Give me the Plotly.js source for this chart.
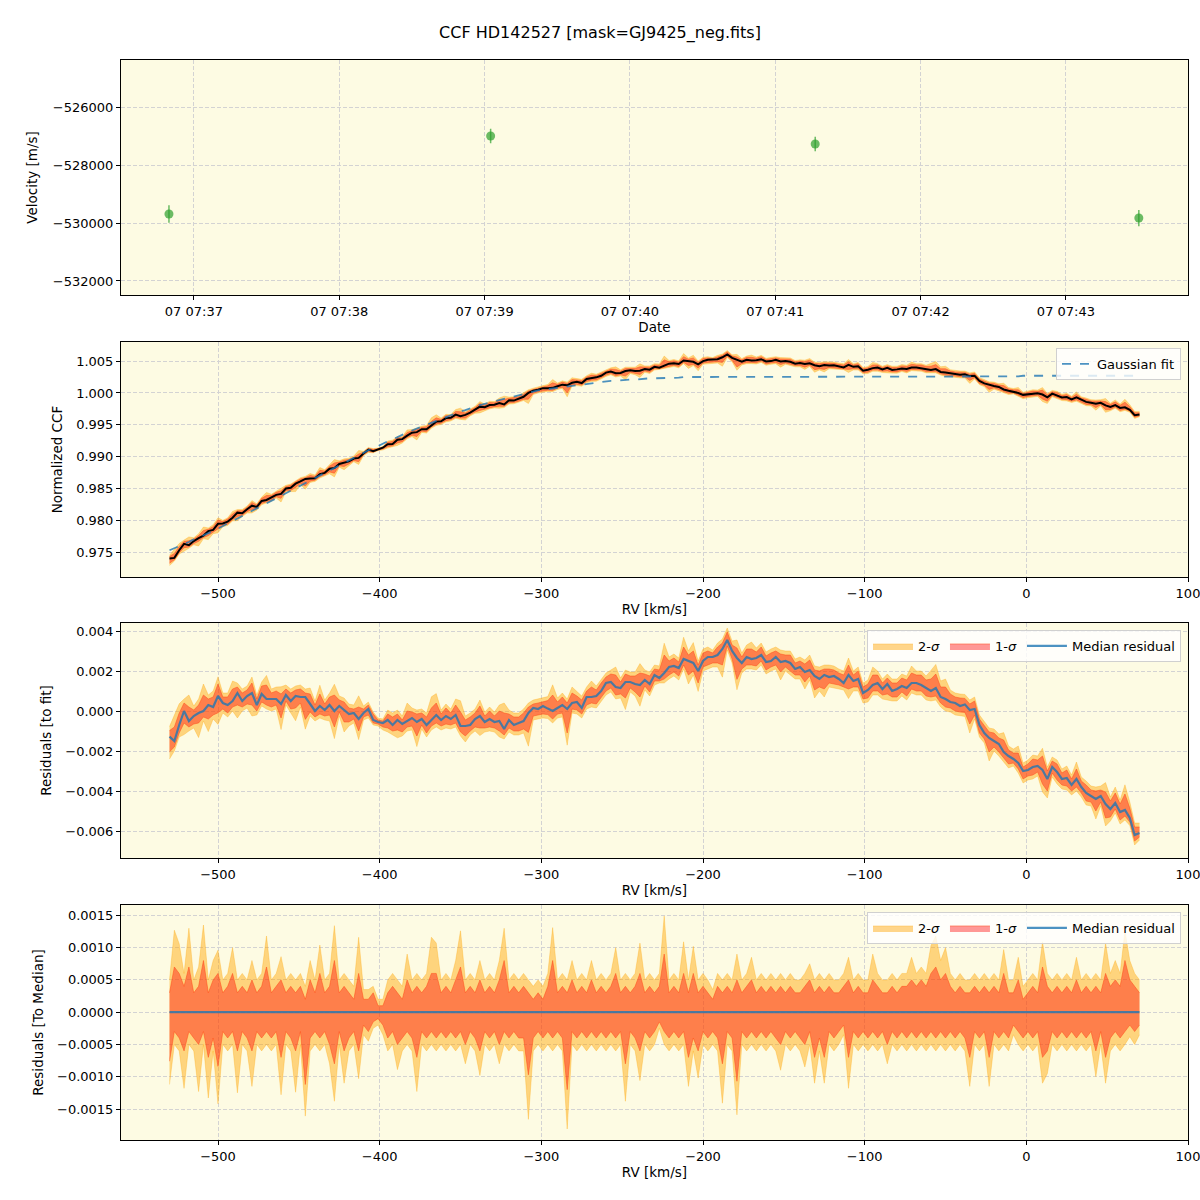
<!DOCTYPE html>
<html>
<head>
<meta charset="utf-8">
<script src="https://cdn.plot.ly/plotly-3.0.1.min.js"></script>
<style>body{margin:0;padding:0;background:#fff}#chart{width:1200px;height:1200px}</style>
</head>
<body>
<div id="chart"></div>
<script>
// ---------- Panel 1: RV time series ----------
const obsDates = ['2019-05-07 07:36:49.7', '2019-05-07 07:39:02.5', '2019-05-07 07:41:16.5', '2019-05-07 07:43:30.1'];
const obsVel = [-529690, -527000, -527276, -529828];
const obsErr = [300, 250, 250, 280];

// ---------- RV grid (km/s) ----------
const rvStart = -530, rvStep = 3, nPts = 201;
const rv = [];
for (let i = 0; i < nPts; i++) rv.push(rvStart + i * rvStep);

// ---------- Gaussian fit (normalized CCF) ----------
const gaussFit = [
0.9753,0.9756,0.9760,0.9763,0.9766,0.9770,0.9773,0.9776,0.9780,0.9783,
0.9787,0.9791,0.9795,0.9799,0.9803,0.9806,0.9810,0.9814,0.9818,0.9822,
0.9826,0.9830,0.9834,0.9838,0.9842,0.9846,0.9850,0.9854,0.9858,0.9862,
0.9866,0.9870,0.9874,0.9878,0.9882,0.9886,0.9890,0.9894,0.9898,0.9902,
0.9906,0.9910,0.9913,0.9917,0.9920,0.9924,0.9927,0.9931,0.9934,0.9938,
0.9941,0.9944,0.9947,0.9950,0.9954,0.9957,0.9960,0.9963,0.9965,0.9968,
0.9971,0.9973,0.9976,0.9978,0.9981,0.9983,0.9985,0.9987,0.9989,0.9991,
0.9993,0.9995,0.9997,0.9999,1.0001,1.0002,1.0004,1.0005,1.0006,1.0008,
1.0009,1.0010,1.0011,1.0012,1.0013,1.0014,1.0015,1.0016,1.0017,1.0017,
1.0018,1.0019,1.0019,1.0020,1.0020,1.0021,1.0021,1.0022,1.0022,1.0023,
1.0023,1.0023,1.0024,1.0024,1.0024,1.0024,1.0025,1.0025,1.0025,1.0025,
1.0025,1.0025,1.0025,1.0025,1.0025,1.0025,1.0025,1.0025,1.0025,1.0025,
1.0025,1.0025,1.0025,1.0025,1.0025,1.0025,1.0025,1.0025,1.0025,1.0025,
1.0025,1.0026,1.0026,1.0026,1.0026,1.0026,1.0026,1.0026,1.0026,1.0026,
1.0026,1.0026,1.0026,1.0026,1.0026,1.0026,1.0026,1.0026,1.0026,1.0026,
1.0026,1.0026,1.0026,1.0026,1.0026,1.0026,1.0026,1.0026,1.0026,1.0026,
1.0026,1.0026,1.0026,1.0026,1.0026,1.0026,1.0026,1.0026,1.0026,1.0026,
1.0026,1.0026,1.0026,1.0026,1.0026,1.0026,1.0027,1.0027,1.0027,1.0027,
1.0027,1.0027,1.0027,1.0027,1.0027,1.0027,1.0027,1.0027,1.0027,1.0027,
1.0027,1.0027,1.0027,1.0027,1.0027,1.0027,1.0027,1.0027,1.0027,1.0027,1.0027];

// ---------- Median residual to fit (units of 1e-4) ----------
const residMed = [
-12.8,-15,-7,0,-5,-2.5,-1,0,3,2,
7.5,4,3,5,9,5,7.5,9,3,8.5,
6,6,6,3.5,8,5,7.5,7,7,3.5,
0,2.5,0.5,3,0,2.5,0.5,-1.5,-1,-4,
-1,1,-4.5,-5.5,-6,-4.5,-7,-4.5,-6.5,-5,
-3.5,-5.5,-4,-7,-4.5,-2,-4.5,-2.5,-4,-2,
-7.5,-7.5,-7,-4,-2.5,-5.5,-4,-5.5,-5,-9,
-4.5,-7,-6,-5,-1,1.5,1,2.5,1.2,0,
1.5,3,1,4,4.5,1.5,7,7,7.5,10,
14,14.5,12,11.5,14.5,14.5,13.5,13,15.5,13.5,
18,16.5,19,22,22.5,21.5,26,25,24,20,
25,27,27,28,31,35.5,30,26.5,24,27,
26,26.5,28,24.5,25,27,24.5,25,24,21,
22,19.5,20.5,17.5,16,18,17,17.5,16,14,
18,15,16,9,10.5,13,14,11,13.5,10,
11,12.5,11.5,14,14,13,11.5,10,11.5,7,
6,4.5,4,2.5,3.3,0.5,1,-7,-11,-13.5,
-15,-16.5,-20.5,-22.5,-24,-26,-30,-29.5,-28,-27.5,
-29.5,-34,-28,-30.5,-34,-33.5,-37,-34,-38,-41,
-42.5,-44,-42.5,-46.5,-49,-46,-50.5,-49.5,-53.5,-62,-61];

// ---------- Spread around the median (units of 1e-4) ----------
const up1 = [
3,7,6,4,7,3,4,8,3,5,
6,3,4,6,3,4,3,5,3,4,
7,3,4,5,3,4,3,4,2,5,
3,6,3,4,8,3,4,3,2,6,
2,2,3,1,1,3,4,3,2,5,
3,4,3,4,6,6,3,4,3,5,
7,3,4,3,5,3,4,3,5,8,
3,4,3,4,3,2,3,2,4,8,
3,4,3,5,3,4,3,5,3,4,
3,4,6,3,4,3,4,6,3,4,
3,4,9,3,4,3,6,3,6,3,
4,3,2,4,3,4,3,5,3,4,
5,3,4,3,4,3,4,3,4,3,
3,4,5,3,4,3,4,3,3,4,
5,3,4,3,3,5,4,3,3,4,
3,4,4,5,4,5,4,6,7,5,
6,4,3,4,3,3,4,3,4,3,
4,3,6,3,3,5,2,3,4,3,
7,4,3,4,3,4,3,5,3,4,
3,4,3,6,4,5,4,8,5,4,3];
const up2 = [
5,12.7,10.6,6,13,5,7,13.5,5,8,
9.6,5,6,10,5,6,5,8,5,6,
11.8,5,6,8.6,5,6,5,6,4,8,
5,10.4,5,6,13.4,5,6,5,4,11.6,
3.5,3.5,4,2,2,5,6,5,4,9,
5,6,5,6,11.6,10.7,5,6,5,8,
12.6,5,6,5,8,5,6,5,8,13,
5,6,5,6,5,4,5,4,6,13.1,
5,6,5,8,5,6,5,8,5,6,
5,6,10,5,6,5,6,10.7,5,6,
5,6,14.9,5,6,5,10.9,5,10.2,5,
6,5,3.5,6,5,6,5,9,5,6,
8.5,5,6,5,6,5,6,5,6,5,
5,6,7.5,5,6,5,6,5,5,6,
8.5,5,6,5,5,9,6,5,5,6,
5,6,6,8.5,6,7,6,10.3,11.8,8,
10,6,5,6,5,5,6,5,6,5,
6,5,9.7,5,5,8.5,4,5,6,5,
10.9,6,5,6,5,6,5,8.5,5,6,
5,6,5,10.7,6,8,6,12.6,8,6,5];
const lo1 = [
-7.6,-3,-4,-6,-3,-4,-5,-3,-7,-4,
-8.4,-3,-4,-3,-6,-3,-4,-6,-3,-4,
-3,-4,-3,-7,-3,-4,-6,-3,-11.2,-4,
-3,-4,-3,-5,-8,-3,-6,-4,-3,-6,
-2,-3,-1.5,-1,-2,-4,-3,-5,-4,-3,
-4,-7,-3,-4,-3,-4,-3,-4,-3,-4,
-3,-5,-3,-4,-6,-3,-4,-3,-5,-3,
-4,-3,-4,-4,-9.7,-4,-3,-4,-3,-4,
-3,-4,-12,-3,-4,-3,-4,-3,-4,-3,
-4,-3,-4,-3,-8,-3,-4,-6,-3,-4,
-3,-1.5,-3,-4,-3,-4,-3,-7,-4,-6,
-3,-4,-3,-4,-8,-3,-4,-10.7,-3,-4,
-3,-4,-3,-4,-3,-4,-5,-3,-4,-3,
-4,-5,-3,-7,-4,-7,-3,-4,-3,-2,
-7,-3,-4,-3,-4,-3,-4,-3,-5,-3,
-4,-3,-4,-3,-4,-3,-4,-3,-4,-3,
-4,-3,-4,-3,-4,-7,-3,-4,-3,-7,
-3,-4,-3,-4,-2,-3,-4,-3,-4,-3,
-7,-6,-3,-4,-3,-4,-3,-4,-3,-4,
-3,-6,-3,-7,-4,-3,-4,-3,-2,-3,-2];
const lo2 = [
-11.2,-5,-6,-11.8,-5,-6,-12.3,-5,-13.3,-6,
-14.2,-5,-6,-5,-12.5,-5,-6,-11.5,-5,-6,
-5,-6,-5,-12.8,-5,-6,-12.4,-5,-16.1,-6,
-5,-6,-5,-8,-13.8,-5,-11,-6,-5,-10.3,
-3.5,-4.5,-2.5,-2,-3.5,-6,-5,-8.9,-6,-5,
-6,-12.3,-5,-6,-5,-6,-5,-6,-5,-6,
-5,-8,-5,-6,-9.8,-5,-6,-5,-8,-5,
-6,-5,-6,-6,-16.6,-6,-5,-6,-5,-6,
-5,-6,-18.1,-5,-6,-5,-6,-5,-6,-5,
-6,-5,-6,-5,-13.8,-5,-6,-10.6,-5,-6,
-5,-2.5,-5,-6,-5,-6,-5,-11.5,-6,-10.2,
-5,-6,-5,-6,-14.1,-5,-6,-15.9,-5,-6,
-5,-6,-5,-6,-5,-6,-9,-5,-6,-5,
-6,-8.5,-5,-11,-6,-11,-5,-6,-5,-3.5,
-11.8,-5,-6,-5,-6,-5,-6,-5,-8,-5,
-6,-5,-6,-5,-6,-5,-6,-5,-6,-5,
-6,-5,-6,-5,-6,-11.5,-5,-6,-5,-11.5,
-5,-6,-5,-6,-3.5,-5,-6,-5,-6,-5,
-11,-9.5,-5,-6,-5,-6,-5,-6,-5,-6,
-5,-10,-5,-11,-6,-5,-6,-5,-3.8,-5,-3.5];

const U = 1e-4;

// derived bands
const residV = residMed.map(v => v * U);
const ccfMed = gaussFit.map((f, i) => f + residV[i]);
const addOff = (base, off) => base.map((b, i) => b + off[i] * U);
const medZero = residMed.map(() => 0);

const bg = '#fdfbe3';
const c2fill = 'rgba(255,165,0,0.45)', c2line = 'rgba(255,165,0,0.5)';
const c1fill = 'rgba(255,0,0,0.4)', c1line = 'rgba(255,70,20,0.6)';
const blue = 'rgba(31,119,180,0.8)';

function bandTraces(base, xa, ya, leg, showLeg) {
  return [
    {x: rv, y: addOff(base, lo2), xaxis: xa, yaxis: ya, mode: 'lines', line: {color: c2line, width: 0.6}, showlegend: false, legend: leg, hoverinfo: 'skip'},
    {x: rv, y: addOff(base, up2), xaxis: xa, yaxis: ya, mode: 'lines', fill: 'tonexty', fillcolor: c2fill, line: {color: c2line, width: 0.6}, name: '2-<i>σ</i>', showlegend: showLeg, legend: leg},
    {x: rv, y: addOff(base, lo1), xaxis: xa, yaxis: ya, mode: 'lines', line: {color: c1line, width: 0.8}, showlegend: false, legend: leg, hoverinfo: 'skip'},
    {x: rv, y: addOff(base, up1), xaxis: xa, yaxis: ya, mode: 'lines', fill: 'tonexty', fillcolor: c1fill, line: {color: c1line, width: 0.8}, name: '1-<i>σ</i>', showlegend: showLeg, legend: leg}
  ];
}

const traces = [];
// Panel 1
traces.push({
  x: obsDates, y: obsVel, xaxis: 'x', yaxis: 'y', mode: 'markers', name: 'Good', legend: 'legend',
  marker: {color: 'rgba(44,160,44,0.7)', size: 9},
  error_y: {type: 'data', array: obsErr, visible: true, color: 'rgba(44,160,44,0.7)', thickness: 1.5, width: 0}
});
// Panel 2
bandTraces(ccfMed, 'x2', 'y2', 'legend2', false).forEach(t => traces.push(t));
traces.push({x: rv, y: ccfMed, xaxis: 'x2', yaxis: 'y2', mode: 'lines', line: {color: 'black', width: 2}, showlegend: false, legend: 'legend2'});
traces.push({x: rv, y: gaussFit, xaxis: 'x2', yaxis: 'y2', mode: 'lines', name: 'Gaussian fit', legend: 'legend2', line: {color: blue, width: 1.8, dash: 'dash'}});
// Panel 3
bandTraces(residV, 'x3', 'y3', 'legend3', true).forEach(t => traces.push(t));
traces.push({x: rv, y: residV, xaxis: 'x3', yaxis: 'y3', mode: 'lines', name: 'Median residual', legend: 'legend3', line: {color: blue, width: 2.2}});
// Panel 4
bandTraces(medZero, 'x4', 'y4', 'legend4', true).forEach(t => traces.push(t));
traces.push({x: rv, y: medZero, xaxis: 'x4', yaxis: 'y4', mode: 'lines', name: 'Median residual', legend: 'legend4', line: {color: blue, width: 2.2}});

const xDom = [121 / 1200, 1188 / 1200];
const dom = (top, bot) => [1 - bot / 1200, 1 - top / 1200];
const axBase = {
  showline: true, mirror: true, linecolor: 'black', linewidth: 1,
  ticks: 'outside', ticklen: 4, tickcolor: 'black', tickwidth: 1,
  showgrid: true, gridcolor: '#d3d3d3', griddash: '4px,2px', gridwidth: 1,
  zeroline: false, tickfont: {size: 13}, ticklabeloverflow: 'allow'
};
const tf = () => ({size: 13.5});
const legBase = {bgcolor: 'rgba(255,255,255,0.8)', bordercolor: '#d0d0d0', borderwidth: 1, font: {size: 13}, xanchor: 'right', yanchor: 'top', x: 1181 / 1200};

const layout = {
  width: 1200, height: 1200, margin: {l: 0, r: 0, t: 0, b: 0},
  paper_bgcolor: 'white', plot_bgcolor: bg,
  font: {family: 'DejaVu Sans, sans-serif', size: 13, color: 'black'},
  title: {text: 'CCF HD142527 [mask=GJ9425_neg.fits]', x: 0.5, xanchor: 'center', y: 1 - 32 / 1200, yanchor: 'middle', font: {size: 16}},
  xaxis: Object.assign({}, axBase, {domain: xDom, anchor: 'y', type: 'date', range: ['2019-05-07 07:36:29.9', '2019-05-07 07:43:50.4'], tickformat: '%d %H:%M', dtick: 60000, title: {text: 'Date', standoff: 4, font: tf()}}),
  yaxis: Object.assign({}, axBase, {domain: dom(60, 295), anchor: 'x', range: [-532483, -524379], tickvals: [-532000, -530000, -528000, -526000], tickformat: 'd', title: {text: 'Velocity [m/s]', standoff: 12, font: tf()}}),
  xaxis2: Object.assign({}, axBase, {domain: xDom, anchor: 'y2', range: [-560, 100], dtick: 100, tick0: 0, title: {text: 'RV [km/s]', standoff: 4, font: tf()}}),
  yaxis2: Object.assign({}, axBase, {domain: dom(342, 577), anchor: 'x2', range: [0.9711, 1.0080], dtick: 0.005, tick0: 0.975, tickformat: '.3f', title: {text: 'Normalized CCF', standoff: 10, font: tf()}}),
  xaxis3: Object.assign({}, axBase, {domain: xDom, anchor: 'y3', range: [-560, 100], dtick: 100, tick0: 0, title: {text: 'RV [km/s]', standoff: 4, font: tf()}}),
  yaxis3: Object.assign({}, axBase, {domain: dom(623, 858), anchor: 'x3', range: [-0.00735, 0.0044], dtick: 0.002, tick0: 0, tickformat: '.3f', title: {text: 'Residuals [to fit]', standoff: 10, font: tf()}}),
  xaxis4: Object.assign({}, axBase, {domain: xDom, anchor: 'y4', range: [-560, 100], dtick: 100, tick0: 0, title: {text: 'RV [km/s]', standoff: 4, font: tf()}}),
  yaxis4: Object.assign({}, axBase, {domain: dom(905, 1140), anchor: 'x4', range: [-0.00198, 0.00166], dtick: 0.0005, tick0: 0, tickformat: '.4f', title: {text: 'Residuals [To Median]', standoff: 10, font: tf()}}),
  legend: Object.assign({}, legBase, {y: 1 - 67 / 1200, itemsizing: 'constant'}),
  legend2: Object.assign({}, legBase, {y: 1 - 348 / 1200}),
  legend3: Object.assign({}, legBase, {y: 1 - 630 / 1200, orientation: 'h', traceorder: 'normal', itemwidth: 40}),
  legend4: Object.assign({}, legBase, {y: 1 - 912 / 1200, orientation: 'h', traceorder: 'normal', itemwidth: 40})
};

Plotly.newPlot('chart', traces, layout, {displayModeBar: false, staticPlot: true});
</script>
</body>
</html>
